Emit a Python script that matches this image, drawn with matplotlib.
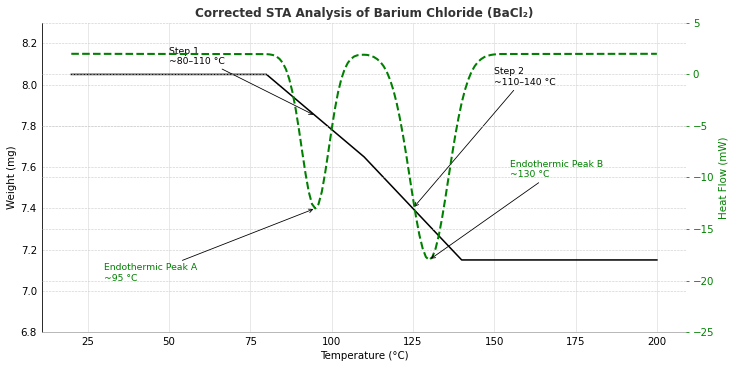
import numpy as np
import matplotlib.pyplot as plt

# weight curve (TGA)
temp_w = [20, 80, 110, 140, 200]
weight = [8.05, 8.05, 7.65, 7.15, 7.15]

# heat flow curve (DSC)
temp_h = [20, 80, 81, 82, 83, 84, 85, 86, 87, 88, 89, 90, 91, 92, 93, 94, 95,
          96, 97, 98, 99, 100, 101, 102, 103, 104, 105, 106, 107, 108, 109, 110,
          111, 112, 113, 114, 115, 116, 117, 118, 119, 120, 121, 122, 123, 124, 125,
          126, 127, 128, 129, 130, 131, 132, 133, 134, 135, 136, 137, 138, 139, 140,
          141, 142, 143, 144, 145, 146, 147, 148, 149, 150, 151, 152, 200]
heat = [2.0, 1.97, 1.94, 1.88, 1.75, 1.51, 1.12, 0.49, -0.45, -1.74, -3.41, -5.39,
        -7.54, -9.62, -11.40, -12.58, -13.0, -12.58, -11.40, -9.62, -7.54, -5.39,
        -3.41, -1.74, -0.45, 0.49, 1.12, 1.51, 1.75, 1.86, 1.90, 1.91,
        1.89, 1.81, 1.69, 1.49, 1.21, 0.80, 0.24, -0.53, -1.52, -2.75, -4.25, -5.97,
        -7.89, -9.92, -11.96, -13.89, -15.57, -16.88, -17.71, -18.0, -17.71, -16.88,
        -15.57, -13.89, -11.96, -9.92, -7.89, -5.97, -4.25, -2.75, -1.52, -0.53,
        0.24, 0.80, 1.21, 1.49, 1.69, 1.81, 1.89, 1.94, 1.96, 1.98, 2.0]

fig, ax = plt.subplots(figsize=(10, 5.0068), dpi=73.7)
fig.subplots_adjust(left=0.057, right=0.931, top=0.938, bottom=0.10)

ax.plot(temp_w, weight, color='black', lw=1.5)
ax.set_ylim(6.8, 8.3)
ax.set_yticks(np.arange(6.8, 8.21, 0.2))
ax.set_xlabel('Temperature (°C)')
ax.set_ylabel('Weight (mg)')
ax.grid(axis='x', color='#e4e4e4', lw=0.8)
ax.grid(axis='y', color='#cfcfcf', ls='--', lw=0.6)
ax.tick_params(length=0, pad=5)
for s in ['top', 'right']:
    ax.spines[s].set_visible(False)
ax.spines['bottom'].set_color('#aaaaaa')
ax.spines['left'].set_color('black')

ax2 = ax.twinx()
ax2.plot(temp_h, heat, color='green', ls='--', lw=2)
ax2.set_ylim(-25, 5)
ax2.set_yticks(range(-25, 6, 5))
ax2.set_ylabel('Heat Flow (mW)', color='green')
ax2.tick_params(axis='y', colors='green', length=3)
ax2.grid(axis='y', color='#cfcfcf', ls='--', lw=0.6)
for s in ax2.spines.values():
    s.set_visible(False)

ax.set_title('Corrected STA Analysis of Barium Chloride (BaCl₂)', fontweight='bold', fontsize=11.7, color='#333333')

arr = dict(arrowstyle='->', color='black', lw=0.8)
ax.annotate('Step 1\n~80–110 °C', xy=(95, 7.85), xytext=(50, 8.1), fontsize=9, arrowprops=arr)
ax.annotate('Step 2\n~110–140 °C', xy=(125, 7.4), xytext=(150, 8.0), fontsize=9, arrowprops=arr)
ax2.annotate('Endothermic Peak A\n~95 °C', xy=(95, -13), xytext=(30, -20), fontsize=9,
             color='green', arrowprops=arr)
ax2.annotate('Endothermic Peak B\n~130 °C', xy=(130, -18), xytext=(155, -10), fontsize=9,
             color='green', arrowprops=arr)

plt.savefig('out.png')
